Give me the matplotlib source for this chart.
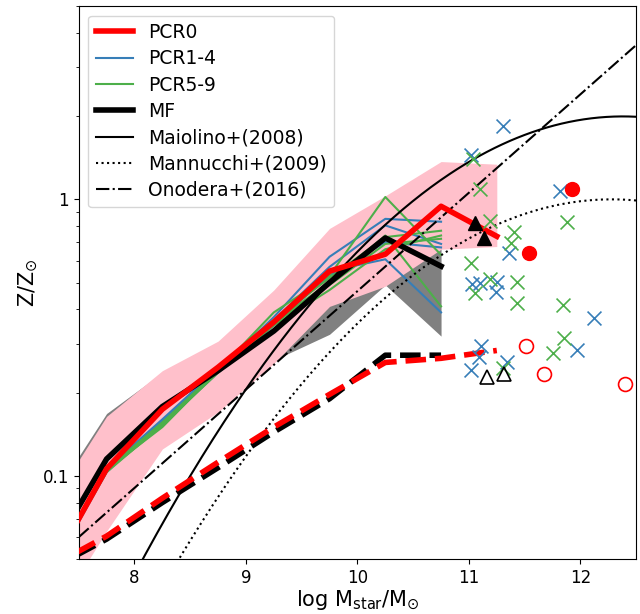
import numpy as np
import matplotlib
matplotlib.use("Agg")
import matplotlib.pyplot as plt
from matplotlib.lines import Line2D

# ---------------- data ----------------
mass_bins = [7.25, 7.75, 8.25, 8.75, 9.25, 9.75, 10.25, 10.75, 11.25]
mass_bins_short = [7.25, 7.75, 8.25, 8.75, 9.25, 9.75, 10.25, 10.75]

pcr0 = [0.046, 0.106, 0.174, 0.247, 0.36, 0.55, 0.633, 0.944, 0.735]
pcr0_hi = [0.079, 0.164, 0.24, 0.307, 0.47, 0.785, 1.03, 1.37, 1.34]
pcr0_lo = [0.03, 0.063, 0.125, 0.17, 0.255, 0.41, 0.485, 0.66, 0.675]
pcr0_dash = [0.047, 0.0605, 0.083, 0.112, 0.15, 0.197, 0.257, 0.266, 0.284]

mf = [0.052, 0.115, 0.178, 0.24, 0.334, 0.50, 0.725, 0.573]
mf_hi = [0.082, 0.168, 0.236, 0.30, 0.45, 0.70, 0.95, 1.0]
mf_lo = [0.035, 0.072, 0.132, 0.178, 0.262, 0.325, 0.49, 0.32]
mf_dash = [0.046, 0.059, 0.080, 0.107, 0.144, 0.19, 0.273, 0.273]

pcr1_4 = [
    [0.046, 0.104, 0.157, 0.240, 0.375, 0.62, 0.85, 0.83],
    [0.047, 0.106, 0.160, 0.245, 0.365, 0.57, 0.805, 0.69],
    [0.045, 0.103, 0.158, 0.238, 0.355, 0.53, 0.70, 0.67],
    [0.046, 0.105, 0.154, 0.236, 0.350, 0.55, 0.607, 0.39],
]
pcr5_9 = [
    [0.046, 0.105, 0.150, 0.240, 0.39, 0.53, 1.02, 0.63],
    [0.047, 0.104, 0.152, 0.238, 0.36, 0.50, 0.74, 0.41],
    [0.045, 0.106, 0.155, 0.242, 0.365, 0.52, 0.73, 0.77],
    [0.046, 0.103, 0.153, 0.236, 0.355, 0.49, 0.69, 0.72],
    [0.047, 0.105, 0.156, 0.239, 0.35, 0.47, 0.66, 0.74],
]

# observations
blue_x_m = [11.31, 11.02, 11.82, 11.36, 11.03, 11.10, 11.25, 11.24, 12.12, 11.97, 11.11, 11.09, 11.02, 11.34]
blue_x_z = [1.84, 1.45, 1.07, 0.638, 0.493, 0.50, 0.502, 0.463, 0.373, 0.285, 0.295, 0.268, 0.242, 0.257]
green_x_m = [11.04, 11.10, 11.19, 11.88, 11.40, 11.38, 11.02, 11.19, 11.43, 11.05, 11.43, 11.84, 11.85, 11.75, 11.31]
green_x_z = [1.40, 1.09, 0.835, 0.828, 0.762, 0.697, 0.587, 0.517, 0.502, 0.46, 0.421, 0.414, 0.314, 0.278, 0.246]
red_fill_m = [11.925, 11.543]
red_fill_z = [1.087, 0.642]
red_open_m = [11.516, 11.675, 12.397]
red_open_z = [0.295, 0.234, 0.214]
tri_fill_m = [11.058, 11.139]
tri_fill_z = [0.824, 0.727]
tri_open_m = [11.163, 11.319]
tri_open_z = [0.227, 0.233]

# literature relations: log Z/Zsun = -a (logM - logM0)^2 + K0 - solar
curv_a = 0.0864
solar_oh = 8.69
maiolino_m0, maiolino_k0 = 12.38, 8.99
mannucchi_m0, mannucchi_k0 = 12.28, 8.69
onodera_slope, onodera_zero = 0.356, -0.332

# ---------------- plot ----------------
BLUE = '#377eb8'
GREEN = '#4daf4a'

fig = plt.figure(figsize=(6.4, 6.14), dpi=100)
ax = fig.add_axes([0.123, 0.0896, 0.871, 0.9004])

ax.fill_between(mass_bins_short, mf_lo, mf_hi, color='gray', lw=0, zorder=1)
ax.fill_between(mass_bins, pcr0_lo, pcr0_hi, color='pink', lw=0, zorder=2)

for s in pcr1_4:
    ax.plot(mass_bins_short, s, color=BLUE, lw=1.5, zorder=3)
for s in pcr5_9:
    ax.plot(mass_bins_short, s, color=GREEN, lw=1.5, zorder=3)

ax.plot(mass_bins_short, mf, color='black', lw=4, zorder=4)
ax.plot(mass_bins, pcr0, color='red', lw=4, zorder=5)
ax.plot(mass_bins_short, mf_dash, color='black', lw=4, ls='--', zorder=4)
ax.plot(mass_bins, pcr0_dash, color='red', lw=4, ls='--', zorder=5)

mm = np.linspace(7.5, 12.5, 300)
ax.plot(mm, 10 ** (-curv_a * (mm - maiolino_m0) ** 2 + maiolino_k0 - solar_oh), color='black', lw=1.5, zorder=3)
ax.plot(mm, 10 ** (-curv_a * (mm - mannucchi_m0) ** 2 + mannucchi_k0 - solar_oh), color='black', lw=1.5, ls=':', zorder=3)
ax.plot(mm, 10 ** (onodera_slope * (mm - 10) + onodera_zero), color='black', lw=1.5, ls='-.', zorder=3)

ax.scatter(blue_x_m, blue_x_z, marker='x', s=100, color=BLUE, lw=1.2, zorder=6)
ax.scatter(green_x_m, green_x_z, marker='x', s=100, color=GREEN, lw=1.2, zorder=6)
ax.plot(red_fill_m, red_fill_z, 'o', color='red', ms=10, ls='none', zorder=7)
ax.plot(red_open_m, red_open_z, 'o', mfc='none', mec='red', ms=10, mew=1.2, ls='none', zorder=7)
ax.plot(tri_fill_m, tri_fill_z, '^', color='black', ms=10, ls='none', zorder=7)
ax.plot(tri_open_m, tri_open_z, '^', mfc='none', mec='black', ms=10, mew=1.2, ls='none', zorder=7)

handles = [
    Line2D([], [], color='red', lw=4),
    Line2D([], [], color=BLUE, lw=1.5),
    Line2D([], [], color=GREEN, lw=1.5),
    Line2D([], [], color='black', lw=4),
    Line2D([], [], color='black', lw=1.5),
    Line2D([], [], color='black', lw=1.5, ls=':'),
    Line2D([], [], color='black', lw=1.5, ls='-.'),
]
labels = ['PCR0', 'PCR1-4', 'PCR5-9', 'MF', 'Maiolino+(2008)', 'Mannucchi+(2009)', 'Onodera+(2016)']
ax.legend(handles, labels, loc='upper left', fontsize=13.5, labelspacing=0.39)

ax.set_yscale('log')
ax.set_xlim(7.5, 12.5)
ax.set_ylim(0.05, 5)
ax.set_xticks([8, 9, 10, 11, 12])
ax.set_yticks([0.1, 1])
ax.set_yticklabels(['0.1', '1'])
ax.tick_params(labelsize=12)
ax.set_xlabel(r'log M$_{\rm star}$/M$_{\odot}$', fontsize=15, labelpad=1)
ax.set_ylabel(r'Z/Z$_{\odot}$', fontsize=15, labelpad=2)

fig.savefig('out.png', dpi=100)
